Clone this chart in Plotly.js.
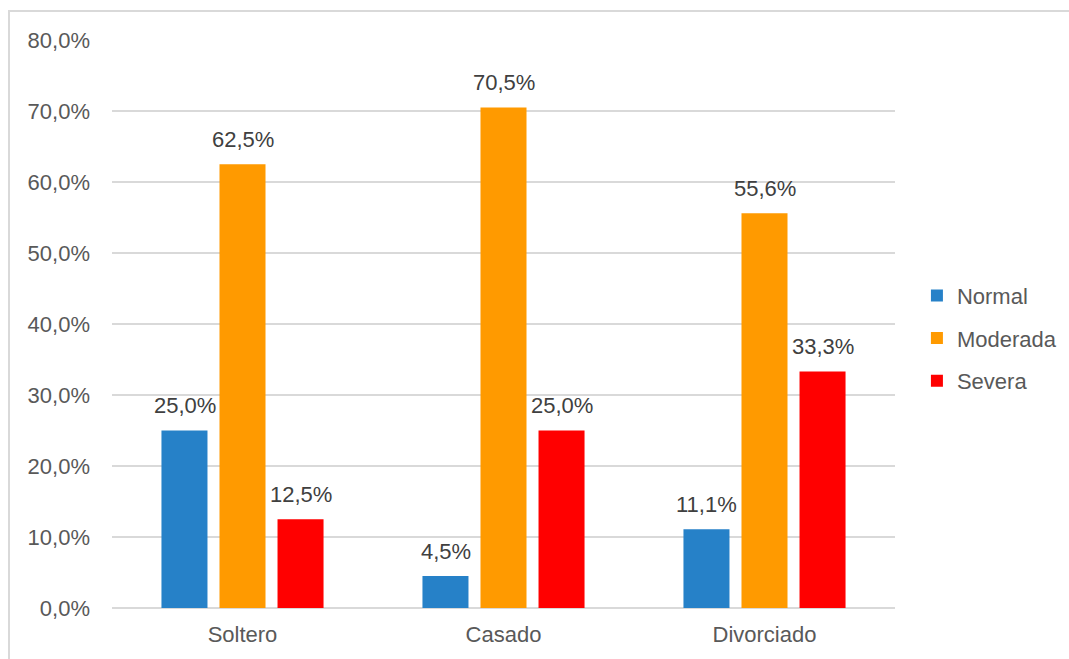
<!DOCTYPE html>
<html>
<head>
<meta charset="utf-8">
<script src="https://cdn.plot.ly/plotly-3.0.1.min.js"></script>
<style>
  body { margin: 0; padding: 0; background: #fff; }
  #wrap { position: relative; width: 1069px; height: 659px; overflow: hidden; }
  #chart { position: absolute; left: 0; top: 0; width: 1069px; height: 659px; }
  #frame { position: absolute; left: 8px; top: 10px; width: 1100px; height: 700px;
           border-left: 2px solid #d9d9d9; border-top: 2px solid #d9d9d9; pointer-events: none; }
</style>
</head>
<body>
<div id="wrap">
  <div id="chart"></div>
  <div id="frame"></div>
</div>
<script>
const categories = ["Soltero", "Casado", "Divorciado"];
const seriesNames = ["Normal", "Moderada", "Severa"];
const normal = [25.0, 4.5, 11.1];
const moderada = [62.5, 70.5, 55.6];
const severa = [12.5, 25.0, 33.3];
const colors = ["#2681c8", "#ff9a00", "#ff0000"];

const series = [normal, moderada, severa];
const FONT = "Liberation Sans, Arial, sans-serif";

const traces = series.map((vals, i) => ({
  type: "bar",
  name: seriesNames[i],
  x: categories,
  y: vals,
  marker: { color: colors[i] },
  legendgroup: "g" + i,
  hoverinfo: "skip"
}));

const fmt = v => v.toFixed(1).replace(".", ",") + "%";
const slot = 58;
const annotations = [];
series.forEach((vals, i) => {
  vals.forEach((v, j) => {
    annotations.push({
      x: categories[j], y: v, xref: "x", yref: "y",
      text: fmt(v), showarrow: false,
      xshift: (i - 1) * slot, yshift: 25, yanchor: "middle",
      font: { family: FONT, size: 22, color: "#404040" }
    });
  });
});

const layout = {
  width: 1069, height: 659,
  margin: { l: 112, r: 174, t: 40, b: 51, pad: 0, autoexpand: false },
  paper_bgcolor: "#ffffff", plot_bgcolor: "#ffffff",
  separators: ",.",
  barmode: "group",
  bargap: 0.333,
  bargroupgap: 0.207,
  showlegend: true,
  legend: {
    x: 1.028, xanchor: "left", y: 0.475, yanchor: "middle",
    font: { family: FONT, size: 22, color: "#595959" },
    tracegroupgap: 11,
    itemwidth: 30,
    bgcolor: "rgba(0,0,0,0)"
  },
  xaxis: {
    type: "category",
    showgrid: false, zeroline: false, showline: false,
    ticks: "",
    tickfont: { family: FONT, size: 22, color: "#595959" },
    ticklabelstandoff: 11
  },
  yaxis: {
    range: [0, 80], dtick: 10, tick0: 0,
    tickformat: ".1f", ticksuffix: "%",
    showgrid: true, gridcolor: "#d9d9d9", gridwidth: 1.3,
    zeroline: true, zerolinecolor: "#d9d9d9", zerolinewidth: 2,
    showline: false, ticks: "",
    tickfont: { family: FONT, size: 22, color: "#595959" },
    ticklabelstandoff: 21
  },
  annotations: annotations
};

Plotly.newPlot("chart", traces, layout, { displayModeBar: false, staticPlot: true });
</script>
</body>
</html>
